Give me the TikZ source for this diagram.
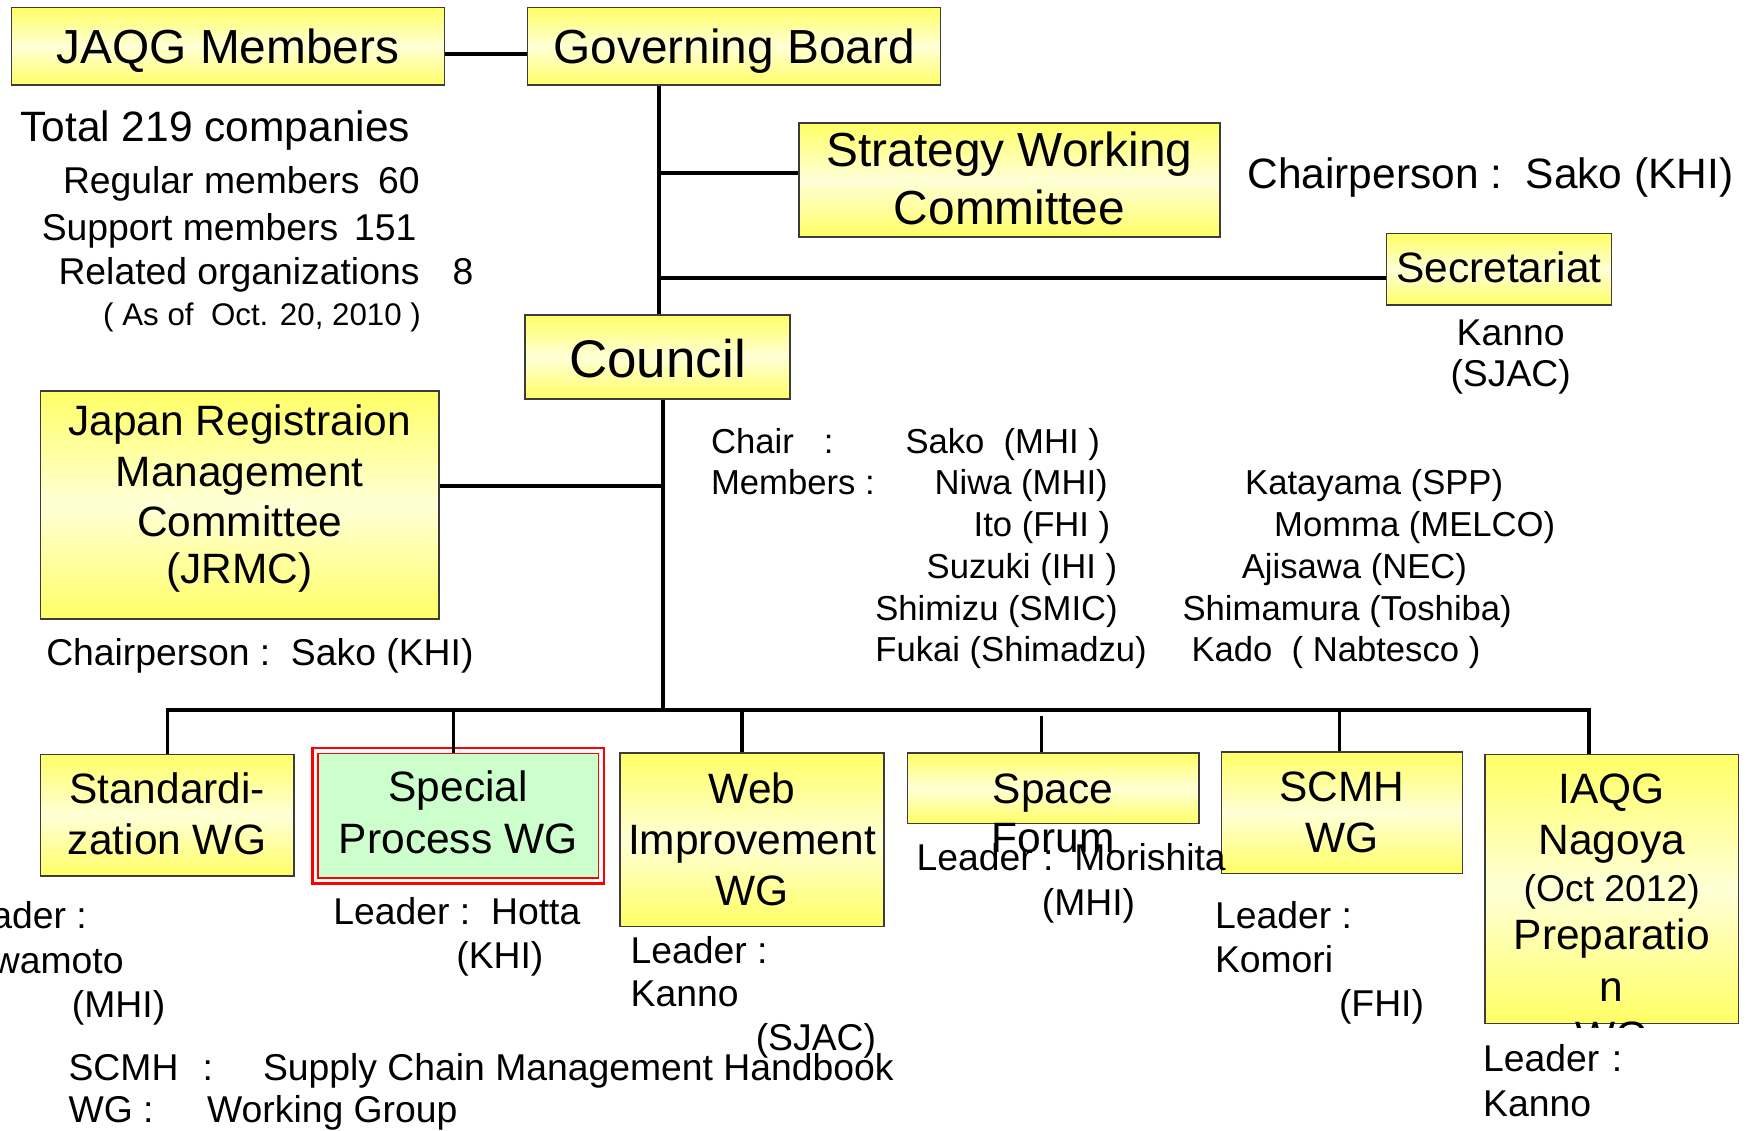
\documentclass[tikz,border=0pt]{standalone}
\usepackage{fontspec}
\setmainfont{Liberation Sans}
\usetikzlibrary{fit}
\definecolor{yel}{RGB}{255,255,102}
\definecolor{paleyel}{RGB}{255,255,215}
\definecolor{lgreen}{RGB}{204,255,204}
\definecolor{edgecol}{RGB}{60,60,60}
\newcommand{\fBig}{\fontsize{21.4}{25.5}\selectfont}
\newcommand{\fCouncil}{\fontsize{23.7}{28}\selectfont}
\newcommand{\fMid}{\fontsize{19}{23}\selectfont}
\newcommand{\fLead}{\fontsize{16.7}{20.5}\selectfont}
\newcommand{\fMem}{\fontsize{15.5}{18.5}\selectfont}
\newcommand{\fSmall}{\fontsize{14}{17}\selectfont}
\tikzset{
  ybox/.style={draw=edgecol, line width=0.6pt, top color=yel, bottom color=yel, middle color=paleyel, inner sep=0pt},
  gbox/.style={draw=red, line width=0.75pt, fill=lgreen, inner sep=0pt},
  rbox/.style={draw=red, line width=1.1pt, inner sep=0pt},
  conn/.style={line width=1.8pt, black},
  dropline/.style={line width=1.5pt, black},
  tw/.style={inner sep=0pt, anchor=base west},
  te/.style={inner sep=0pt, anchor=base east},
  tb/.style={inner sep=0pt, anchor=base},
}
\begin{document}
\begin{tikzpicture}[x=0.5pt,y=-0.5pt]
\useasboundingbox (0,0) rectangle (1568,1012);
\clip (0,0) rectangle (1568,1012);
% ---------- boxes ----------
\node[ybox, fit={(10,7) (398,76)}] (jaqg) {};
\node[ybox, fit={(472,7) (842,76)}] (gb) {};
\node[ybox, fit={(715,110) (1092,212)}] (swc) {};
\node[ybox, fit={(1241,209) (1442,273)}] (sec) {};
\node[ybox, fit={(470,282) (707,357)}] (council) {};
\node[ybox, fit={(36,350) (393,554)}] (jrmc) {};
\node[ybox, fit={(36,675) (263,784)}] (std) {};
\node[rbox, fit={(279.5,669.5) (540.5,790.5)}] (spwo) {};
\node[gbox, fit={(284.5,674.5) (535.5,785.5)}] (spw) {};
\node[ybox, fit={(555,674) (791,829)}] (web) {};
\node[ybox, fit={(812,674) (1073,737)}] (space) {};
\node[ybox, fit={(1093,673) (1309,782)}] (scmh) {};
\node[ybox, fit={(1329,675) (1556,916)}] (iaqg) {};
% ---------- box texts ----------
\node[tb, font=\fBig] (jaqgt) at (204,57) {JAQG Members};
\node[tb, font=\fBig] (gbt) at (657,57) {Governing Board};
\node[tb, font=\fBig] (swct1) at (903.5,149) {Strategy Working};
\node[tb, font=\fBig] (swct2) at (903.5,201) {Committee};
\node[tb, font=\fMid] (sect) at (1341.5,253) {Secretariat};
\node[tb, font=\fCouncil] (councilt) at (588.5,338) {Council};
\node[tb, font=\fMid] (jr1) at (214.5,389.5) {Japan Registraion};
\node[tb, font=\fMid] (jr2) at (214.5,435.5) {Management};
\node[tb, font=\fMid] (jr3) at (214.5,480) {Committee};
\node[tb, font=\fMid] (jr4) at (214.5,522) {(JRMC)};
\node[tb, font=\fMid] (st1) at (149.5,719) {Standardi-};
\node[tb, font=\fMid] (st2) at (149.5,765) {zation WG};
\node[tb, font=\fMid] (sp1) at (410,717.5) {Special};
\node[tb, font=\fMid] (sp2) at (410,763.5) {Process WG};
\node[tb, font=\fMid] (wb1) at (673,719) {Web};
\node[tb, font=\fMid] (wb2) at (673,765) {Improvement};
\node[tb, font=\fMid] (wb3) at (673,810) {WG};
\node[tb, font=\fMid] (spacet1) at (942.5,719) {Space};
\node[tb, font=\fMid] (spacet2) at (942.5,763) {Forum};
\node[tb, font=\fMid] (sc1) at (1201,717.5) {SCMH};
\node[tb, font=\fMid] (sc2) at (1201,763) {WG};
\node[tb, font=\fMid] (iq1) at (1442.5,719) {IAQG};
\node[tb, font=\fMid] (iq2) at (1442.5,765) {Nagoya};
\node[tb, font=\fLead] (iq3) at (1442.5,807) {(Oct 2012)};
\node[tb, font=\fMid] (iq4) at (1442.5,850) {Preparatio};
\node[tb, font=\fMid] (iq5) at (1442.5,896) {n};
\node[tb, font=\fMid] (iq6) at (1442.5,941) {WG};
% ---------- connectors ----------
\coordinate (yJ) at (0,48);
\coordinate (xT) at (590,0);
\coordinate (xT2) at (593,0);
\coordinate (yS) at (0,155);
\coordinate (ySec) at (0,249);
\coordinate (yJR) at (0,435);
\coordinate (yBus) at (0,635);
\coordinate (ySp) at (0,641);
\coordinate (xStd) at (150,0);
\coordinate (xSpw) at (406,0);
\coordinate (xWeb) at (664,0);
\coordinate (xSpace) at (932,0);
\coordinate (xScmh) at (1199,0);
\coordinate (xIaqg) at (1422,0);
\draw[conn] (jaqg.east |- yJ) -- (gb.west |- yJ);
\draw[conn] (gb.south -| xT) -- (council.north -| xT);
\draw[conn] (xT |- yS) -- (swc.west |- yS);
\draw[conn] (xT |- ySec) -- (sec.west |- ySec);
\draw[conn] (council.south -| xT2) -- (xT2 |- yBus);
\draw[conn] (jrmc.east |- yJR) -- (xT2 |- yJR);
\draw[conn, line cap=rect] (xStd |- yBus) -- (xIaqg |- yBus);
\draw[dropline] (xStd |- yBus) -- (std.north -| xStd);
\draw[dropline] (xSpw |- yBus) -- (spw.north -| xSpw);
\draw[dropline] (xWeb |- yBus) -- (web.north -| xWeb);
\draw[dropline] (xSpace |- ySp) -- (space.north -| xSpace);
\draw[dropline] (xScmh |- yBus) -- (scmh.north -| xScmh);
\draw[dropline] (xIaqg |- yBus) -- (iaqg.north -| xIaqg);
% ---------- texts ----------
\node[tw, font=\fMid] (tot) at (18,127) {Total 219 companies};
\node[tw, font=\fLead] (reg) at (56,173) {Regular members};
\node[te, font=\fLead] (regn) at (376,173) {60};
\node[tw, font=\fLead] (sup) at (37,215) {Support members};
\node[te, font=\fLead] (supn) at (373,215) {151};
\node[tw, font=\fLead] (rel) at (52,255) {Related organizations};
\node[te, font=\fLead] (reln) at (424,255) {8};
\node[tw, font=\fSmall] (asof) at (92,291) {(\ As of\ \ Oct. 20, 2010\ )};
\node[tw, font=\fMid] (swcch) at (1116,169) {Chairperson :\ \ Sako (KHI)};
\node[tb, font=\fLead] (seck1) at (1352,309) {Kanno};
\node[tb, font=\fLead] (seck2) at (1352,346) {(SJAC)};
\node[tw, font=\fLead] (jrch) at (41,596) {Chairperson :\ \ Sako (KHI)};
% council members
\node[tw, font=\fMem] (cm0) at (636,406) {Chair};
\node[tw, font=\fMem] (cm0c) at (737,406) {:};
\node[tw, font=\fMem] (cm0n) at (810,406) {Sako\ \ (MHI\ )};
\node[tw, font=\fMem] (cm1) at (636,443) {Members :};
\node[tw, font=\fMem] (cl1) at (836,443) {Niwa (MHI)};
\node[tw, font=\fMem] (cl2) at (871,480) {Ito (FHI\ )};
\node[tw, font=\fMem] (cl3) at (829,518) {Suzuki (IHI\ )};
\node[tw, font=\fMem] (cl4) at (783,555) {Shimizu (SMIC)};
\node[tw, font=\fMem] (cl5) at (783,592) {Fukai (Shimadzu)};
\node[tw, font=\fMem] (cr1) at (1114,443) {Katayama (SPP)};
\node[tw, font=\fMem] (cr2) at (1140,480) {Momma (MELCO)};
\node[tw, font=\fMem] (cr3) at (1111,518) {Ajisawa (NEC)};
\node[tw, font=\fMem] (cr4) at (1058,555) {Shimamura (Toshiba)};
\node[tw, font=\fMem] (cr5) at (1066,592) {Kado\ \ (\ Nabtesco\ )};
% leaders
\node[te, font=\fLead] (sl1) at (78,831) {Leader :};
\node[te, font=\fLead] (sl2) at (111,871) {Iwamoto};
\node[tw, font=\fLead] (sl3) at (64,911) {(MHI)};
\node[tw, font=\fLead] (pl1) at (298,827) {Leader :\ \ Hotta};
\node[tw, font=\fLead] (pl2) at (408,867) {(KHI)};
\node[tw, font=\fLead] (wl1) at (564,862) {Leader :};
\node[tw, font=\fLead] (wl2) at (564,901) {Kanno};
\node[tw, font=\fLead] (wl3) at (676,940) {(SJAC)};
\node[tw, font=\fLead] (fl1) at (820,779) {Leader :\ \ Morishita};
\node[tw, font=\fLead] (fl2) at (932,819) {(MHI)};
\node[tw, font=\fLead] (cl1b) at (1087,831) {Leader :};
\node[tw, font=\fLead] (cl2b) at (1087,870) {Komori};
\node[tw, font=\fLead] (cl3b) at (1198,910) {(FHI)};
\node[tw, font=\fLead, fill=white, text height=19.5pt, text depth=4pt, text width=75pt] (il1) at (1327,959) {Leader :};
\node[tw, font=\fLead] (il2) at (1327,999) {Kanno};
% footer
\node[tw, font=\fLead] (f1) at (61,967) {SCMH};
\node[tw, font=\fLead] (f1c) at (181,967) {:};
\node[tw, font=\fLead] (f1t) at (235,967) {Supply Chain Management Handbook};
\node[tw, font=\fLead] (f2) at (61,1005) {WG :};
\node[tw, font=\fLead] (f2t) at (185,1005) {Working Group};
\end{tikzpicture}
\end{document}
